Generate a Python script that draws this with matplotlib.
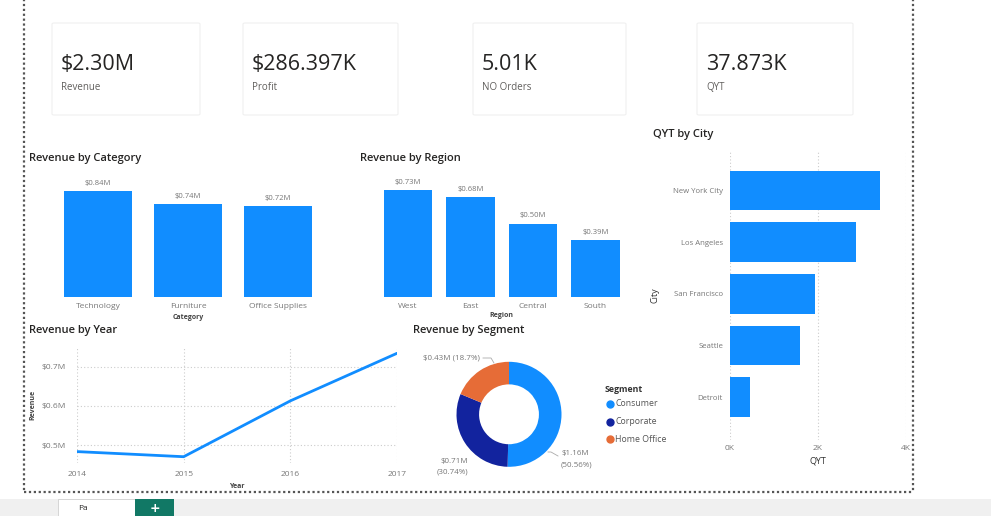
import matplotlib
matplotlib.use("Agg")
import matplotlib.pyplot as plt
from matplotlib.patches import Rectangle, FancyBboxPatch
from matplotlib.lines import Line2D

# ---------------- data ----------------
kpi_values = ["$2.30M", "$286.397K", "5.01K", "37.873K"]
kpi_labels = ["Revenue", "Profit", "NO Orders", "QYT"]

categories = ["Technology", "Furniture", "Office Supplies"]
cat_revenue = [0.84, 0.74, 0.72]  # $M

regions = ["West", "East", "Central", "South"]
region_revenue = [0.73, 0.68, 0.50, 0.39]  # $M

cities = ["New York City", "Los Angeles", "San Francisco", "Seattle", "Detroit"]
city_qyt = [3.41, 2.87, 1.93, 1.59, 0.45]  # thousands

years = [2014, 2015, 2016, 2017]
year_revenue = [0.484, 0.471, 0.613, 0.734]  # $M
year_ticks = [0.5, 0.6, 0.7]

segments = ["Consumer", "Corporate", "Home Office"]
segment_revenue = [1.16, 0.71, 0.43]  # $M
segment_pct = [50.56, 30.74, 18.7]

# ---------------- style ----------------
W, H = 991, 516
BLUE = "#118DFF"
SEG_COLORS = ["#118DFF", "#12239E", "#E66C37"]
FONT = "Open Sans"
TICK_C = "#777777"
TITLE_C = "#252423"
plt.rcParams["font.family"] = [FONT, "DejaVu Sans"]

fig = plt.figure(figsize=(W / 100, H / 100), dpi=100)
fig.patch.set_facecolor("white")


def fx(x):
    return x / W


def fy(y):
    return 1 - y / H


def add_ax(left, top, right, bottom, **kw):
    return fig.add_axes([fx(left), fy(bottom), (right - left) / W, (bottom - top) / H], **kw)


def ftext(x, y, s, **kw):
    return fig.text(fx(x), fy(y), s, **kw)


# bottom grey strip (report tabs)
fig.patches.append(Rectangle((0, 0), 1, fy(499), transform=fig.transFigure,
                             facecolor="#f0f0f0", edgecolor="none", zorder=0))
fig.patches.append(Rectangle((fx(58), 0), (135 - 58) / W, fy(499), transform=fig.transFigure,
                             facecolor="white", edgecolor="#d0d0d0", lw=0.6, zorder=1))
fig.patches.append(Rectangle((fx(135), 0), (174 - 135) / W, fy(499), transform=fig.transFigure,
                             facecolor="#117865", edgecolor="none", zorder=1))
ftext(154.5, 508, "+", color="white", fontsize=9, fontweight="bold", ha="center", va="center",
      family="DejaVu Sans", zorder=2)
ftext(78, 508.5, "Pa", color="#252423", fontsize=6, ha="left", va="center", zorder=2)

# dotted canvas border
for xs, ys in [([24, 24], [-5, 492]), ([913, 913], [-5, 492]), ([24, 913], [492, 492])]:
    fig.lines.append(Line2D([fx(v) for v in xs], [fy(v) for v in ys], transform=fig.transFigure,
                            color="#555555", lw=1.6, linestyle=(0, (1, 1.2)), zorder=3))

# ---------------- KPI cards ----------------
card_boxes = [(52, 200), (243, 398), (473, 626), (697, 853)]
for (l, r), v, lab in zip(card_boxes, kpi_values, kpi_labels):
    fig.patches.append(FancyBboxPatch((fx(l), fy(115)), (r - l) / W, (115 - 23) / H,
                                      boxstyle="round,pad=0,rounding_size=0.002",
                                      transform=fig.transFigure, facecolor="white",
                                      edgecolor="#f0f0f0", lw=0.8, zorder=1))
    ftext(l + 9, 64, v, fontsize=15.5, color=TITLE_C, ha="left", va="center", zorder=2)
    ftext(l + 9, 87, lab, fontsize=7, color="#605E5C", ha="left", va="center", zorder=2)


def style_bar_axes(ax):
    for s in ax.spines.values():
        s.set_visible(False)
    ax.tick_params(axis="both", length=0, colors=TICK_C, labelsize=6)
    ax.set_yticks([])


TITLE_KW = dict(fontsize=8, color=TITLE_C, ha="left", va="center", fontweight="semibold")

# ---------------- Revenue by Category ----------------
ftext(29, 158, "Revenue by Category", **TITLE_KW)
ax1 = add_ax(53, 171, 323, 297)
b1 = ax1.bar(categories, cat_revenue, width=0.755, color=BLUE)
ax1.set_xlim(-0.5, 2.5)
ax1.set_ylim(0, 1.0)
style_bar_axes(ax1)
ax1.bar_label(b1, labels=[f"${v:.2f}M" for v in cat_revenue], padding=3, fontsize=5.5, color=TICK_C)
ax1.tick_params(axis="x", pad=4)
ax1.set_xlabel("Category", fontsize=5, color="#444444", fontweight="bold", labelpad=3)

# ---------------- Revenue by Region ----------------
ftext(360, 158, "Revenue by Region", **TITLE_KW)
ax2 = add_ax(376.75, 165, 626.75, 297)
b2 = ax2.bar(regions, region_revenue, width=0.77, color=BLUE)
ax2.set_xlim(-0.5, 3.5)
ax2.set_ylim(0, 0.9)
style_bar_axes(ax2)
ax2.bar_label(b2, labels=[f"${v:.2f}M" for v in region_revenue], padding=3, fontsize=5.5, color=TICK_C)
ax2.tick_params(axis="x", pad=4)
ax2.set_xlabel("Region", fontsize=5, color="#444444", fontweight="bold", labelpad=2)

# ---------------- QYT by City ----------------
ftext(653, 135, "QYT by City", **TITLE_KW)
ax3 = add_ax(730, 150, 905.7, 440)
ax3.barh(cities, city_qyt, height=0.77, color=BLUE, zorder=2)
ax3.set_xlim(0, 4)
ax3.set_ylim(4.83, -0.785)
for s in ax3.spines.values():
    s.set_visible(False)
ax3.set_xticks([0, 2, 4])
ax3.set_xticklabels(["0K", "2K", "4K"])
ax3.grid(axis="x", color="#cccccc", linestyle=(0, (1, 2)), lw=0.8, zorder=0)
ax3.tick_params(axis="x", length=0, colors=TICK_C, labelsize=6)
ax3.tick_params(axis="y", length=0, colors=TICK_C, labelsize=5.6, pad=5)
ax3.set_xlabel("QYT", fontsize=6.5, color="#333333", labelpad=3)
ax3.set_ylabel("City", fontsize=6.5, color="#333333")
ax3.yaxis.set_label_coords((660 - 730) / 175.7, 0.5)

# ---------------- Revenue by Year ----------------
ftext(29, 331, "Revenue by Year", **TITLE_KW)
ax4 = add_ax(77, 347, 397, 463)
ax4.plot(years, year_revenue, color=BLUE, lw=2, solid_capstyle="round", zorder=3)
ax4.set_xlim(2014, 2017)
ax4.set_ylim(0.455, 0.75)
ax4.set_xticks(years)
ax4.set_yticks(year_ticks)
ax4.set_yticklabels([f"${v:.1f}M" for v in year_ticks])
for s in ax4.spines.values():
    s.set_visible(False)
ax4.grid(True, color="#cccccc", linestyle=(0, (1, 2)), lw=0.8, zorder=0)
ax4.tick_params(axis="both", length=0, colors=TICK_C, labelsize=6)
ax4.tick_params(axis="y", pad=8)
ax4.tick_params(axis="x", pad=6)
ax4.set_xlabel("Year", fontsize=5, color="#444444", fontweight="bold", labelpad=3)
ax4.set_ylabel("Revenue", fontsize=5, color="#444444", fontweight="bold", labelpad=4)

# ---------------- Revenue by Segment ----------------
ftext(413, 331, "Revenue by Segment", **TITLE_KW)
cx, cy, r = 509, 414.3, 52.5
ax5 = add_ax(cx - r, cy - r, cx + r, cy + r)
wedges, _ = ax5.pie(segment_revenue, colors=SEG_COLORS, startangle=90, counterclock=False,
                    radius=1, wedgeprops=dict(width=0.43, edgecolor="none"))
ax5.set_xlim(-1, 1)
ax5.set_ylim(-1, 1)
ax5.set_aspect("equal")
ax5.axis("off")

# Home Office label
ftext(480, 358, f"${segment_revenue[2]:.2f}M ({segment_pct[2]}%)", ha="right", va="center",
      fontsize=5.8, color=TICK_C)
fig.lines.append(Line2D([fx(483), fx(491), fx(494)], [fy(358), fy(358), fy(363)],
                        transform=fig.transFigure, color="#aaaaaa", lw=0.6))
# Consumer label
ftext(561, 454, f"${segment_revenue[0]:.2f}M", ha="left", va="center", fontsize=5.8, color=TICK_C)
ftext(561, 465, f"({segment_pct[0]}%)", ha="left", va="center", fontsize=5.8, color=TICK_C)
fig.lines.append(Line2D([fx(548), fx(551), fx(558)], [fy(452), fy(452), fy(456)],
                        transform=fig.transFigure, color="#aaaaaa", lw=0.6))
# Corporate label
ftext(468, 461, f"${segment_revenue[1]:.2f}M", ha="right", va="center", fontsize=5.8, color=TICK_C)
ftext(468, 472, f"({segment_pct[1]}%)", ha="right", va="center", fontsize=5.8, color=TICK_C)

# legend
ftext(605, 389, "Segment", ha="left", va="center", fontsize=6.3, color="#333333", fontweight="bold")
for i, (seg, col) in enumerate(zip(segments, SEG_COLORS)):
    yy = 404 + i * 17.5
    fig.lines.append(Line2D([fx(609.5)], [fy(yy)], transform=fig.transFigure, marker="o",
                            markersize=5, color=col, linestyle="none"))
    ftext(615, yy, seg, ha="left", va="center", fontsize=6.3, color="#555555")

fig.savefig("out.png", dpi=100, facecolor="white")
